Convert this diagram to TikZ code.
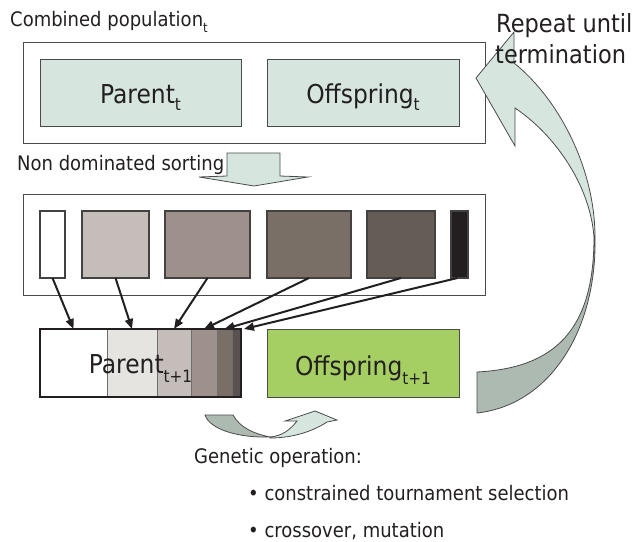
\documentclass[tikz,border=0pt]{standalone}
\usepackage{fontspec}
\setmainfont{DejaVu Sans}[FakeStretch=0.9]
\usetikzlibrary{arrows.meta,calc}
\definecolor{lgreen}{HTML}{D6E6DF}
\definecolor{dgreen}{HTML}{ADBAB1}
\definecolor{ygreen}{HTML}{A5CF63}
\definecolor{ink}{HTML}{231F20}
\definecolor{edge}{HTML}{4A4A4A}
\definecolor{rankA}{HTML}{C5BDBA}
\definecolor{rankB}{HTML}{9E908A}
\definecolor{rankC}{HTML}{7A6F66}
\definecolor{rankD}{HTML}{665C56}
\definecolor{rankE}{HTML}{231F20}
\definecolor{barB}{HTML}{E6E4E1}
\definecolor{barF}{HTML}{5A5250}
\newcommand\lsub[3]{\raisebox{#2}{\fontsize{#1}{#1}\selectfont #3}}
\begin{document}
\begin{tikzpicture}[x=1pt,y=-1pt,
  box/.style={draw=edge, line width=1pt, inner sep=0pt, outer sep=0pt},
  rankbox/.style={draw=ink!85, line width=1.2pt, inner sep=0pt, outer sep=0pt, minimum height=67pt},
  barbox/.style={draw=edge!80, line width=0.8pt, inner sep=0pt, outer sep=0pt, minimum height=68pt},
  lbl/.style={inner sep=0pt, anchor=base west, text=ink, font=\fontsize{20}{24}\selectfont},
  big/.style={inner sep=0pt, anchor=base, text=ink, font=\fontsize{26}{30}\selectfont},
  arr/.style={draw=ink, line width=2pt, -{Triangle[length=10pt,width=8pt]}},
  outl/.style={draw=edge, line width=0.8pt}
]
\useasboundingbox (0,0) rectangle (639,541);

% top container
\node[box, minimum width=462pt, minimum height=101pt] (pop) at (254,92.5) {};
\node[box, fill=lgreen, minimum width=201pt, minimum height=67pt] (parT) at (140.5,92.5) {};
\node[box, fill=lgreen, minimum width=192pt, minimum height=67pt] (offT) at (363,92.5) {};
\node[big] (parTl) at (140.5,103) {Parent\lsub{17pt}{-7pt}{t}};
\node[big] (offTl) at (363,103) {Offspring\lsub{17pt}{-7pt}{t}};
\node[lbl] (ttl) at (10,26) {Combined population\lsub{13pt}{-6pt}{t}};

% sorting label and down arrow
\node[lbl] (nds) at (17,170) {Non dominated sorting};
\draw[outl, fill=lgreen] (227,153) -- (280,153) -- (280,176) -- (308,177) -- (254,186) -- (199,177) -- (227,176) -- cycle;

% sorted fronts
\node[box, minimum width=462pt, minimum height=101pt] (sortbox) at (254,244.5) {};
\node[rankbox, fill=white, minimum width=25pt] (r1) at (52.5,244.5) {};
\node[rankbox, fill=rankA, minimum width=67pt] (r2) at (115.5,244.5) {};
\node[rankbox, fill=rankB, minimum width=85pt] (r3) at (207.5,244.5) {};
\node[rankbox, fill=rankC, minimum width=84pt] (r4) at (309,244.5) {};
\node[rankbox, fill=rankD, minimum width=68pt] (r5) at (401,244.5) {};
\node[rankbox, fill=rankE, minimum width=17pt] (r6) at (459.5,244.5) {};

% next parent bar
\node[barbox, fill=white, minimum width=67pt] (p1) at (73.5,363) {};
\node[barbox, fill=barB, minimum width=50pt] (p2) at (132,363) {};
\node[barbox, fill=rankA, minimum width=34pt] (p3) at (174,363) {};
\node[barbox, fill=rankB, minimum width=26pt] (p4) at (204,363) {};
\node[barbox, fill=rankC, minimum width=15pt] (p5) at (224.5,363) {};
\node[barbox, fill=barF, minimum width=9pt] (p6) at (236.5,363) {};
\draw[draw=ink, line width=1.5pt] (p1.north west) rectangle (p6.south east);
\node[big] (parT1l) at (140.5,373) {Parent\lsub{17pt}{-9pt}{t+1}};
\node[box, fill=ygreen, minimum width=192pt, minimum height=68pt] (offT1) at (363,363) {};
\node[big] (offT1l) at (363,375) {Offspring\lsub{17pt}{-9pt}{t+1}};

% arrows fronts -> bar
\draw[arr] (r1.south) -- (p1.north);
\draw[arr] (r2.south) -- (p2.north);
\draw[arr] (r3.south) -- (p3.north);
\draw[arr] (r4.south) -- (p4.north);
\draw[arr] (r5.south) -- (p5.north);
\draw[arr] ($(r6.south)+(-2,0)$) -- ($(p6.north east)+(3,0)$);

% big return arrow
\draw[outl, fill=dgreen] (595,237) .. controls (597,330) and (550,405) .. (477,413)
  -- (477,372) .. controls (555,368) and (594,330) .. (594,237) -- cycle;
\draw[outl, fill=lgreen] (594,237) .. controls (590,185) and (555,135) .. (515,108)
  -- (515,146) -- (476,78) -- (514,32) -- (514,63)
  .. controls (560,100) and (595,170) .. (595,237) -- cycle;
\node[inner sep=0pt, anchor=base west, text=ink, font=\fontsize{25}{30}\selectfont] (rep1) at (496,32) {Repeat until};
\node[inner sep=0pt, anchor=base west, text=ink, font=\fontsize{25}{30}\selectfont] (rep2) at (495,63) {termination};

% genetic operation arrow
\draw[outl, fill=dgreen] (205,415) -- (233,415) .. controls (240,428) and (255,434) .. (270,437)
  .. controls (240,438) and (210,430) .. (205,415) -- cycle;
\draw[outl, fill=lgreen] (270,438) .. controls (295,438) and (315,430) .. (327,422)
  -- (337,420) -- (315,411) -- (285,421) -- (297,421)
  .. controls (290,430) and (282,436) .. (270,437) -- cycle;

% genetic operation text
\node[lbl] (gen) at (194,463) {Genetic operation:};
\node[lbl] (b1) at (248,500) {• constrained tournament selection};
\node[lbl] (b2) at (248,537) {• crossover, mutation};
\end{tikzpicture}
\end{document}
